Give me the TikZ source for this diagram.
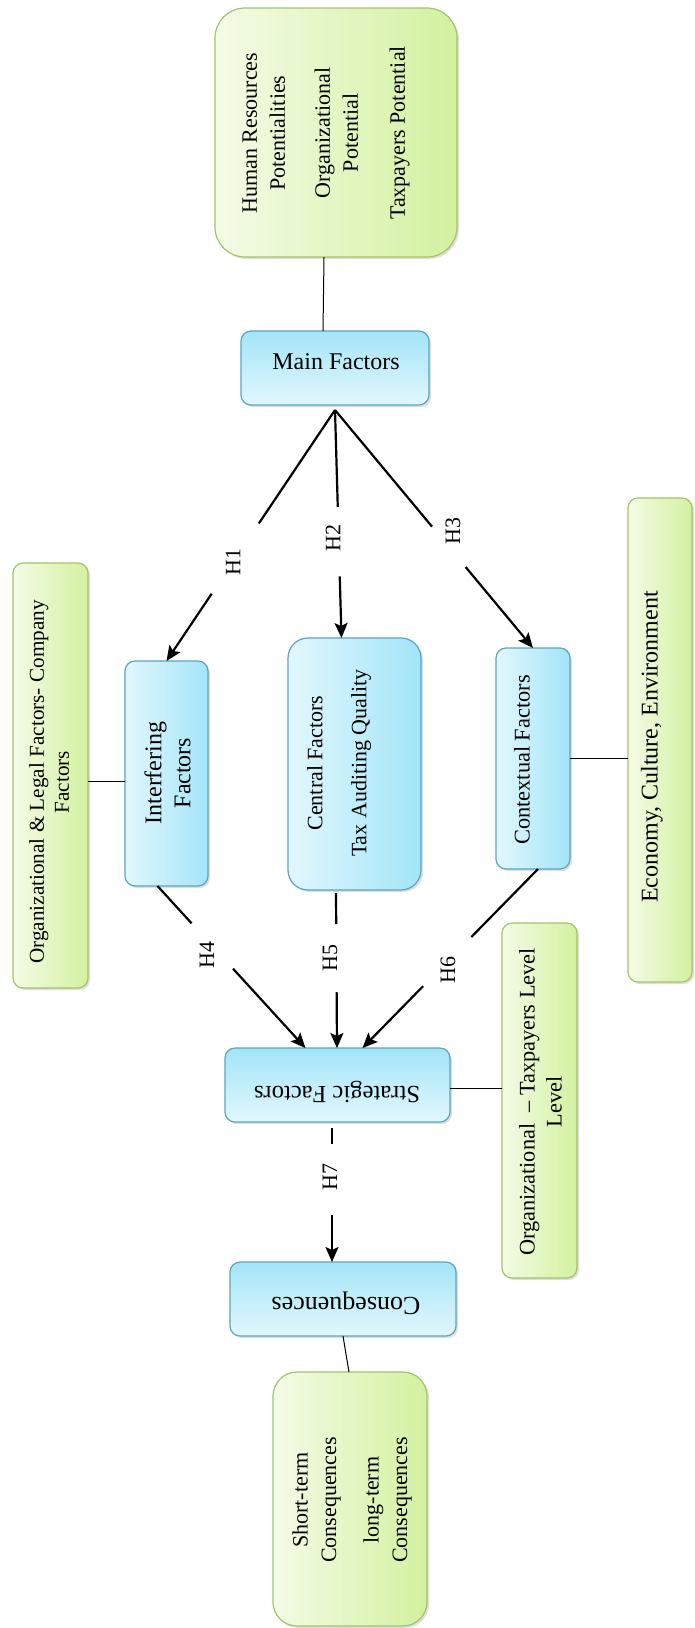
\documentclass[tikz,border=0pt]{standalone}
\usepackage{fontspec}
\setmainfont{Liberation Serif}
\usetikzlibrary{arrows.meta,shadows}
\newcommand\fs[2]{\fontsize{#1}{#2}\selectfont}
\definecolor{bluebd}{HTML}{5AA5C2}
\definecolor{bluelt}{HTML}{E2F7FD}
\definecolor{bluedk}{HTML}{A3E5F8}
\definecolor{grnbd}{HTML}{A3C468}
\definecolor{grnlt}{HTML}{F4FBE6}
\definecolor{grndk}{HTML}{D3F1A0}
\tikzset{
  shad/.style={drop shadow={shadow xshift=2pt,shadow yshift=-2pt,opacity=0.25}},
  bbox/.style={shad, draw=bluebd, line width=1.2pt, rounded corners=10pt, inner sep=0pt, outer sep=0pt},
  bvert/.style={bbox, left color=bluelt, right color=bluedk},
  bhorz/.style={bbox, top color=bluedk, bottom color=bluelt},
  gbox/.style={shad, draw=grnbd, line width=1.2pt, rounded corners=10pt, left color=grnlt, right color=grndk, inner sep=0pt, outer sep=0pt},
  vtxt/.style={rotate=90, align=center, inner sep=0pt},
  htxt/.style={align=center, inner sep=0pt},
  hlab/.style={rotate=90, inner sep=0pt, font=\fs{22}{26}},
  hline/.style={line width=2.2pt},
  harrow/.style={line width=2.2pt, -{Stealth[length=15pt,width=13pt,inset=3pt]}},
  thinline/.style={line width=1pt},
}
\begin{document}
\begin{tikzpicture}[x=1pt,y=-1pt]
\useasboundingbox[fill=white] (0,0) rectangle (695,1628);

% boxes
\node[gbox, rounded corners=30pt, minimum width=242pt, minimum height=249pt] (topb) at (336,132.5) {};
\node[bhorz, minimum width=188pt, minimum height=74pt] (mainb) at (335,368) {};
\node[bvert, minimum width=83pt, minimum height=225pt] (interfb) at (166.5,773.5) {};
\node[bvert, rounded corners=20pt, minimum width=133pt, minimum height=252pt] (centralb) at (354.5,764) {};
\node[bvert, minimum width=74pt, minimum height=221pt] (contextb) at (533,758.5) {};
\node[gbox, minimum width=75pt, minimum height=425pt] (orglegb) at (50.5,775.5) {};
\node[gbox, minimum width=64pt, minimum height=484pt] (econb) at (660,740) {};
\node[bhorz, minimum width=225pt, minimum height=74pt] (stratb) at (337.5,1085) {};
\node[gbox, minimum width=75pt, minimum height=355pt] (orgtaxb) at (539.5,1100.5) {};
\node[bhorz, minimum width=226pt, minimum height=74pt] (conseqb) at (343,1299) {};
\node[gbox, rounded corners=24pt, minimum width=154pt, minimum height=254pt] (botb) at (350,1499) {};

% texts
\node[vtxt, font=\fs{22}{28}] (topt) at (326,133) {Human Resources\\Potentialities\\[17pt]Organizational\\Potential\\[19pt]Taxpayers Potential};
\node[htxt, font=\fs{24}{28}] (maint) at (336,362) {Main Factors};
\node[vtxt, font=\fs{24}{29}] (interft) at (167.5,773) {Interfering\\Factors};
\node[vtxt, font=\fs{22}{44}] (centralt) at (339,763) {Central Factors\\Tax Auditing Quality};
\node[vtxt, font=\fs{22.4}{27}] (contextt) at (522,760) {Contextual Factors};
\node[vtxt, font=\fs{21.2}{25}] (orglegt) at (49,782) {Organizational \& Legal Factors- Company\\Factors};
\node[vtxt, font=\fs{24}{28}] (econt) at (652,747) {Economy, Culture, Environment};
\node[htxt, rotate=180, font=\fs{24.6}{28}] (stratt) at (337,1092) {Strategic Factors};
\node[vtxt, font=\fs{22.3}{27}] (orgtaxt) at (540.5,1102) {Organizational\ \ – Taxpayers Level\\Level};
\node[htxt, rotate=180, font=\fs{26}{30}] (conseqt) at (346,1303) {Consequences};
\node[vtxt, font=\fs{22}{28.5}] (bott) at (352,1500) {Short-term\\Consequences\\[14pt]long-term\\Consequences};

% thin connectors
\draw[thinline] ([xshift=-12pt]topb.south) -- ([xshift=-12pt]mainb.north);
\draw[thinline] ([yshift=-6pt]orglegb.east) -- ([yshift=-6pt]orglegb.east -| interfb.west);
\draw[thinline] (contextb.east) -- (contextb.east -| econb.west);
\draw[thinline] ([yshift=-3pt]stratb.east) -- ([yshift=-3pt]stratb.east -| orgtaxb.west);
\draw[thinline] (conseqb.south) -- ([xshift=-1pt]botb.north);

% hypotheses
\coordinate (m0) at ([yshift=-5pt]mainb.south);
% H1
\path (m0) -- coordinate[pos=0.452] (h1a) coordinate[pos=0.732] (h1b) (interfb.north);
\draw[hline] (m0) -- (h1a);
\draw[harrow] (h1b) -- (interfb.north);
\node[hlab] (h1) at (233,562) {H1};
% H2
\coordinate (h2e) at ([xshift=-13pt]centralb.north);
\path (m0) -- coordinate[pos=0.425] (h2a) coordinate[pos=0.73] (h2b) (h2e);
\draw[hline] (m0) -- (h2a);
\draw[harrow] (h2b) -- (h2e);
\node[hlab] (h2) at (333,538) {H2};
% H3
\path (m0) -- coordinate[pos=0.49] (h3a) coordinate[pos=0.66] (h3b) (contextb.north);
\draw[hline] (m0) -- (h3a);
\draw[harrow] (h3b) -- (contextb.north);
\node[hlab] (h3) at (453,531) {H3};
% H4
\coordinate (h4s) at ([xshift=-9pt]interfb.south);
\coordinate (h4e) at ([xshift=-32pt]stratb.north);
\path (h4s) -- coordinate[pos=0.23] (h4a) coordinate[pos=0.51] (h4b) (h4e);
\draw[hline] (h4s) -- (h4a);
\draw[harrow] (h4b) -- (h4e);
\node[hlab] (h4) at (207,955) {H4};
% H5
\coordinate (h5s) at ([xshift=-18.5pt,yshift=-3pt]centralb.south);
\coordinate (h5e) at ([xshift=-0.5pt]stratb.north);
\path (h5s) -- coordinate[pos=0.2] (h5a) coordinate[pos=0.64] (h5b) (h5e);
\draw[hline] (h5s) -- (h5a);
\draw[harrow] (h5b) -- (h5e);
\node[hlab] (h5) at (330,958) {H5};
% H6
\coordinate (h6s) at ([xshift=5pt]contextb.south);
\coordinate (h6e) at ([xshift=25pt]stratb.north);
\path (h6s) -- coordinate[pos=0.38] (h6a) coordinate[pos=0.655] (h6b) (h6e);
\draw[hline] (h6s) -- (h6a);
\draw[harrow] (h6b) -- (h6e);
\node[hlab] (h6) at (448,970) {H6};
% H7
\coordinate (h7s) at ([xshift=-5.5pt,yshift=-6pt]stratb.south);
\coordinate (h7e) at ([xshift=-11pt]conseqb.north);
\path (h7s) -- coordinate[pos=0.12] (h7a) coordinate[pos=0.65] (h7b) (h7e);
\draw[hline] (h7s) -- (h7a);
\draw[harrow] (h7b) -- (h7e);
\node[hlab] (h7) at (330,1177) {H7};
\end{tikzpicture}
\end{document}
